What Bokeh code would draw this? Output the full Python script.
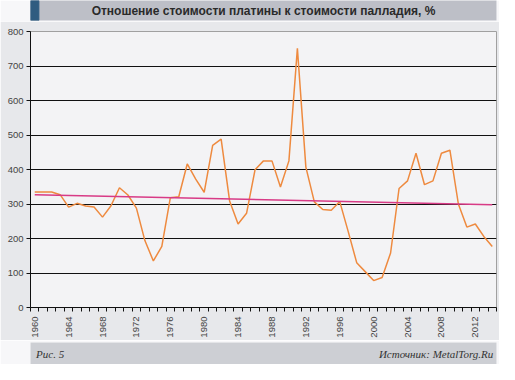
import math
from bokeh.plotting import figure
from bokeh.layouts import column
from bokeh.models import Range1d, FixedTicker, SingleIntervalTicker
from bokeh.core.properties import value
from bokeh.embed import file_html
from bokeh.resources import INLINE

# ---- data ----
years = list(range(1960, 2015))
ratio = [335, 335, 335, 327, 291, 302, 294, 291, 262, 295,
         347, 326, 288, 194, 135, 177, 318, 321, 416, 372,
         334, 470, 488, 309, 242, 273, 399, 425, 425, 349,
         425, 751, 407, 306, 284, 282, 307, 220, 130, 104,
         78, 87, 158, 345, 367, 447, 356, 367, 447, 456,
         300, 233, 242, 206, 177]
trend_years = [1960, 2014]
trend_values = [327, 298]
label_years = list(range(1960, 2015, 4))
y_ticks = list(range(0, 801, 100))

title_text = "Отношение стоимости платины к стоимости палладия, %"
fig_label = "Рис. 5"
source_text = "Источник: MetalTorg.Ru"

W = 499
SANS = "Liberation Sans"
SERIF = "Liberation Serif"

# ---- header bar ----
hdr = figure(width=W, height=21, x_range=Range1d(0, 1), y_range=Range1d(0, 1),
             x_axis_type=None, y_axis_type=None, toolbar_location=None,
             output_backend="svg", min_border=0, min_border_bottom=1)
hdr.background_fill_color = "#BDBFC7"
hdr.border_fill_color = "#F7F7F9"
hdr.outline_line_color = None
hdr.grid.visible = False
hdr.quad(left=[0], right=[0.018], bottom=[0], top=[1], color="#2F5C80")
hdr.text(x=[0.5], y=[0.5], text=[title_text], text_align="center", text_baseline="middle",
         text_font=value(SANS), text_font_size="12px", text_font_style="bold",
         text_color="#2a2a2a")

# ---- main chart ----
p = figure(width=W, height=319, x_range=Range1d(1959.5, 2014.5), y_range=Range1d(0, 800),
           toolbar_location=None, output_backend="svg",
           min_border_left=30, min_border_right=3, min_border_top=10, min_border_bottom=24)
p.background_fill_color = "#F3F3F5"
p.border_fill_color = "#E7E8EB"
p.outline_line_color = "#A0A0A0"

p.xgrid.visible = False
p.ygrid.ticker = SingleIntervalTicker(interval=100)
p.ygrid.grid_line_color = "#111111"
p.ygrid.grid_line_width = 1

p.yaxis.ticker = FixedTicker(ticks=y_ticks)
p.yaxis.axis_line_color = "#111111"
p.yaxis.major_tick_line_color = "#111111"
p.yaxis.major_tick_out = 4
p.yaxis.major_tick_in = 0
p.yaxis.minor_tick_line_color = None
p.yaxis.major_label_text_font = SANS
p.yaxis.major_label_text_font_size = "9.5px"
p.yaxis.major_label_text_color = "#444444"
p.yaxis.major_label_standoff = 3

boundaries = [y - 0.5 for y in years] + [years[-1] + 0.5]
p.xaxis.ticker = FixedTicker(ticks=label_years, minor_ticks=boundaries)
p.xaxis.axis_line_color = "#111111"
p.xaxis.major_tick_line_color = None
p.xaxis.major_tick_out = 0
p.xaxis.major_tick_in = 0
p.xaxis.minor_tick_line_color = "#111111"
p.xaxis.minor_tick_out = 4
p.xaxis.minor_tick_in = 0
p.xaxis.major_label_orientation = math.pi / 2
p.xaxis.major_label_text_font = SANS
p.xaxis.major_label_text_font_size = "9.5px"
p.xaxis.major_label_text_color = "#444444"
p.xaxis.major_label_standoff = 5

p.line(years, ratio, line_color="#EE8A3F", line_width=1.5)
p.line(trend_years, trend_values, line_color="#D83A86", line_width=1.5)

# ---- footer bar ----
ftr = figure(width=W, height=24, x_range=Range1d(0, 1), y_range=Range1d(0, 1),
             x_axis_type=None, y_axis_type=None, toolbar_location=None,
             output_backend="svg", min_border=0, min_border_top=2)
ftr.background_fill_color = "#CDCFD4"
ftr.border_fill_color = "#F7F7F9"
ftr.outline_line_color = None
ftr.grid.visible = False
ftr.text(x=[0.012], y=[0.5], text=[fig_label], text_align="left", text_baseline="middle",
         text_font=value(SERIF), text_font_size="11px", text_font_style="italic",
         text_color="#333333")
ftr.text(x=[0.993], y=[0.5], text=[source_text], text_align="right", text_baseline="middle",
         text_font=value(SERIF), text_font_size="11px", text_font_style="italic",
         text_color="#333333")

layout = column(hdr, p, ftr, spacing=0)
open("out.html", "w").write(file_html(layout, INLINE))
